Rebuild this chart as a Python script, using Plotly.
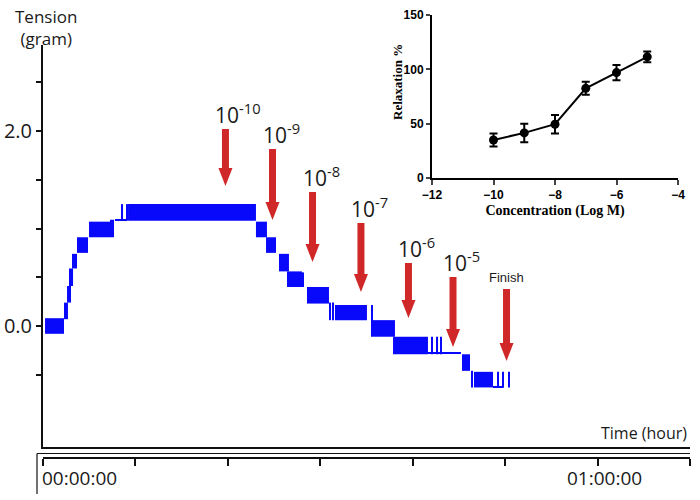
import plotly.graph_objects as go

# ---------------- data: tension trace (time in minutes, tension in grams) ----------------
block_start = [0.22, 2.27, 2.60, 2.81, 3.14, 3.68, 4.98, 7.30, 7.52, 7.79, 8.49, 8.98, 9.20,
               23.04, 24.13, 25.53, 26.40, 28.08, 28.56, 31.00, 31.32, 31.59, 35.54, 35.70,
               37.87, 42.03, 42.57, 43.00, 41.65, 45.33, 46.36, 46.63, 49.12, 49.66, 50.31, 48.69]
block_end = [2.27, 2.70, 3.03, 3.25, 3.68, 4.87, 7.25, 7.46, 7.68, 9.09, 8.66, 9.20, 23.04,
             24.23, 25.21, 26.61, 28.02, 28.24, 30.94, 31.16, 31.48, 35.05, 35.70, 38.08,
             41.65, 42.19, 42.74, 43.17, 45.22, 46.20, 46.52, 48.69, 49.28, 49.82, 50.47, 49.82]
block_low = [-0.08, 0.07, 0.24, 0.41, 0.59, 0.75, 0.91, 0.91, 0.91, 1.077, 1.09, 1.08, 1.08,
             0.91, 0.75, 0.56, 0.40, 0.40, 0.23, 0.06, 0.06, 0.06, -0.11, -0.11,
             -0.29, -0.29, -0.29, -0.29, -0.282, -0.46, -0.63, -0.63, -0.63, -0.63, -0.63, -0.63]
block_high = [0.08, 0.24, 0.41, 0.59, 0.74, 0.91, 1.07, 1.09, 1.09, 1.09, 1.25, 1.25, 1.25,
              1.07, 0.91, 0.74, 0.56, 0.55, 0.40, 0.24, 0.24, 0.215, 0.215, 0.06,
              -0.11, -0.11, -0.11, -0.11, -0.268, -0.29, -0.46, -0.47, -0.47, -0.47, -0.47, -0.615]

# ---------------- data: dosing arrows ----------------
dose_labels = ["10<sup>-10</sup>", "10<sup>-9</sup>", "10<sup>-8</sup>", "10<sup>-7</sup>",
               "10<sup>-6</sup>", "10<sup>-5</sup>", "Finish"]
dose_time = [19.74, 24.83, 29.16, 34.40, 39.54, 44.36, 50.15]
arrow_tip = [1.436, 1.087, 0.656, 0.349, 0.082, -0.215, -0.359]
arrow_top = [2.02, 1.815, 1.374, 1.056, 0.646, 0.503, 0.379]

# ---------------- data: inset concentration-response ----------------
conc_log = [-10, -9, -8, -7, -6, -5]
relaxation = [35, 41.5, 49.5, 82.5, 97, 111.5]
relax_err = [6, 8.5, 8.5, 6, 7, 5]

# ---------------- ticks ----------------
y_label_vals = [0.0, 2.0]
y_label_text = ["0.0", "2.0"]
y_minor_vals = [-0.5, 0.5, 1.0, 1.5, 2.5]
time_tickvals = [0, 10, 20, 30, 40, 50, 60, 70]
time_label_vals = [0, 60]
time_label_text = ["00:00:00", "01:00:00"]
inset_xticks = [-12, -10, -8, -6, -4]
inset_yticks = [0, 50, 100, 150]

BLUE = "rgb(8,8,250)"
RED = "rgb(208,40,40)"
TXT = "#1a1a1a"
MAIN_FONT = "Open Sans, DejaVu Sans, sans-serif"

X_RANGE = [0, 70]
Y_RANGE = [-1.241, 2.882]
PX_PER_MIN = 647 / 70.0
PX_PER_G = 97.5

fig = go.Figure()

# tension trace drawn as blocks (bars with base)
centers = [(a + b) / 2 for a, b in zip(block_start, block_end)]
widths = [b - a for a, b in zip(block_start, block_end)]
heights = [h - l for l, h in zip(block_low, block_high)]
fig.add_trace(go.Bar(x=centers, y=heights, base=block_low, width=widths,
                     marker=dict(color=BLUE, line=dict(width=0)),
                     xaxis="x", yaxis="y", hoverinfo="skip"))

# arrows as filled polygons
shaft_hw = 3.5 / PX_PER_MIN
head_hw = 7.0 / PX_PER_MIN
head_len = 18.0 / PX_PER_G
for t, tip, top in zip(dose_time, arrow_tip, arrow_top):
    hb = tip + head_len
    xs = [t - shaft_hw, t + shaft_hw, t + shaft_hw, t + head_hw, t, t - head_hw, t - shaft_hw, t - shaft_hw]
    ys = [top, top, hb, hb, tip, hb, hb, top]
    fig.add_trace(go.Scatter(x=xs, y=ys, mode="lines", fill="toself", fillcolor=RED,
                             line=dict(width=0, color=RED), xaxis="x", yaxis="y",
                             hoverinfo="skip"))

# arrow labels
for t, top, lab in zip(dose_time, arrow_top, dose_labels):
    if lab == "Finish":
        fig.add_annotation(x=t, y=top, xref="x", yref="y", text=lab, showarrow=False,
                           xanchor="center", yanchor="bottom", yshift=2,
                           font=dict(family="Liberation Sans, Arial, sans-serif", size=13, color=TXT))
    else:
        fig.add_annotation(x=t, y=top, xref="x", yref="y", text=lab, showarrow=False,
                           xanchor="left", xshift=-12, yanchor="bottom", yshift=-2,
                           font=dict(family=MAIN_FONT, size=21, color=TXT))

# dummy trace for bottom time axis
fig.add_trace(go.Scatter(x=[0, 70], y=[None, None], xaxis="x2", yaxis="y",
                         mode="lines", hoverinfo="skip", showlegend=False))

# inset
fig.add_trace(go.Scatter(x=conc_log, y=relaxation, mode="lines+markers",
                         line=dict(color="black", width=2),
                         marker=dict(color="black", size=9),
                         error_y=dict(type="data", array=relax_err, color="black",
                                      thickness=2, width=4),
                         xaxis="x3", yaxis="y3", hoverinfo="skip"))

# plot area in pixels: x 43..690, y 10..458
PLOT_B = 458.0
PLOT_H = 448.0
def py(p):
    return (PLOT_B - p) / PLOT_H
def px(p):
    return (p - 43.0) / 647.0

fig.update_layout(
    width=700, height=500,
    margin=dict(l=43, r=10, t=10, b=42, autoexpand=False),
    plot_bgcolor="white", paper_bgcolor="white",
    showlegend=False, barmode="overlay",
    xaxis=dict(domain=[0, 1], range=X_RANGE, anchor="y", showline=True, linecolor="#111",
               linewidth=2, showticklabels=False, ticks="", showgrid=False, zeroline=False,
               automargin=False),
    yaxis=dict(domain=[py(447), py(45)], range=Y_RANGE, anchor="x", showline=True,
               linecolor="#111", linewidth=2, ticks="outside", ticklen=5, tickwidth=2,
               tickcolor="#111", tickvals=y_label_vals, ticktext=y_label_text,
               minor=dict(tickvals=y_minor_vals, ticks="outside", ticklen=5, tickwidth=2,
                          tickcolor="#111", showgrid=False),
               tickfont=dict(family=MAIN_FONT, size=20, color=TXT),
               showgrid=False, zeroline=False, automargin=False),
    xaxis2=dict(overlaying="x", anchor="free", position=0, side="bottom", range=X_RANGE,
                showline=True, linecolor="#111", linewidth=2, ticks="outside", ticklen=7,
                tickwidth=1.5, tickcolor="#111", tickvals=time_tickvals,
                showticklabels=False, showgrid=False, zeroline=False, automargin=False),
    xaxis3=dict(domain=[px(432), px(678)], anchor="y3", range=[-12, -4],
                tickvals=inset_xticks, ticks="outside", ticklen=5, tickwidth=2,
                showline=True, linecolor="black", linewidth=2, showgrid=False, zeroline=False,
                automargin=False,
                tickfont=dict(family="Liberation Sans, Arial, sans-serif", size=12,
                              color="black", weight="bold"),
                title=dict(text="Concentration (Log M)", standoff=4,
                           font=dict(family="Liberation Serif, Times New Roman, serif",
                                     size=14, color="black", weight="bold"))),
    yaxis3=dict(domain=[py(178), py(15)], anchor="x3", range=[0, 150],
                tickvals=inset_yticks, ticks="outside", ticklen=4, tickwidth=2,
                showline=True, linecolor="black", linewidth=2, showgrid=False, zeroline=False,
                automargin=False,
                tickfont=dict(family="Liberation Sans, Arial, sans-serif", size=12,
                              color="black", weight="bold")),
)

# bottom time-axis decorations (second thin line + left vertical bar)
fig.add_shape(type="line", xref="paper", yref="paper", x0=px(37), x1=1, y0=py(453.5), y1=py(453.5),
              line=dict(color="#111", width=1.2))
fig.add_shape(type="line", xref="paper", yref="paper", x0=px(37), x1=px(37), y0=py(453.5), y1=py(494),
              line=dict(color="#111", width=1.2))

for v, t in zip(time_label_vals, time_label_text):
    fig.add_annotation(x=v, y=py(478), xref="x2", yref="paper", text=t, showarrow=False,
                       xanchor="left" if v == 0 else "center", xshift=-3 if v == 0 else 7,
                       yanchor="middle",
                       font=dict(family=MAIN_FONT, size=19, color=TXT))

fig.add_annotation(x=px(46), y=py(3), xref="paper", yref="paper", text="Tension<br>(gram)",
                   showarrow=False, xanchor="center", yanchor="top", align="center",
                   font=dict(family=MAIN_FONT, size=17, color=TXT))
fig.add_annotation(x=px(689), y=py(433), xref="paper", yref="paper", text="Time (hour)",
                   showarrow=False, xanchor="right", yanchor="middle",
                   font=dict(family=MAIN_FONT, size=16, color=TXT))
fig.add_annotation(x=px(397), y=py(82), xref="paper", yref="paper", text="Relaxation %",
                   showarrow=False, textangle=-90, xanchor="center", yanchor="middle",
                   font=dict(family="Liberation Serif, Times New Roman, serif", size=13,
                             color="black", weight="bold"))

fig.write_html("out.html", config={"displayModeBar": False},
               post_script="document.body.style.margin='0';")
